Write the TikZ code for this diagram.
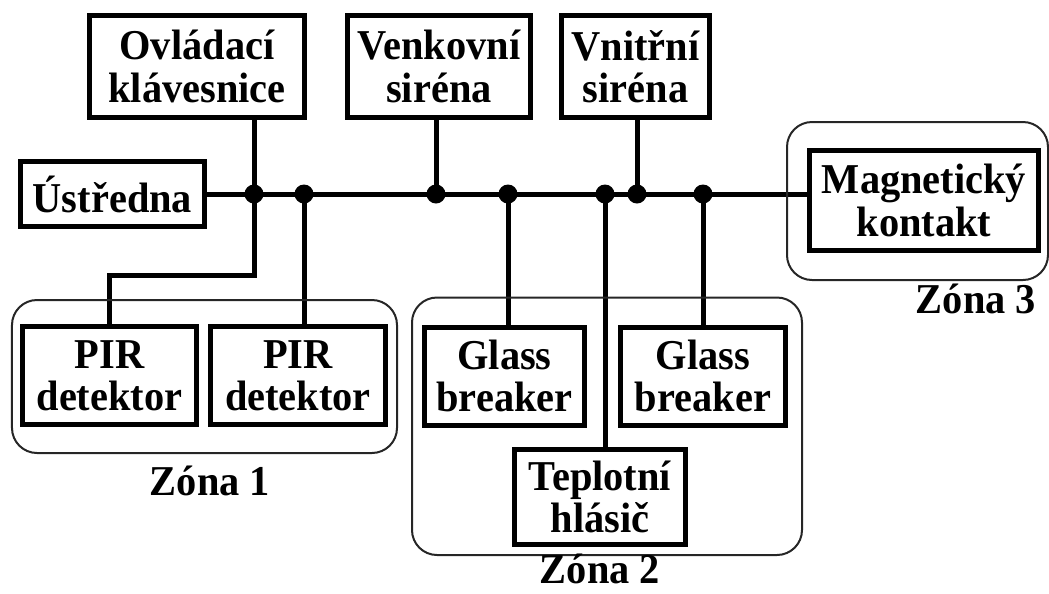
\documentclass[tikz,border=0pt]{standalone}
\usepackage{fontspec}
\setmainfont{Liberation Serif}[FakeStretch=0.95]
\usetikzlibrary{positioning,calc}

\begin{document}
\begin{tikzpicture}[x=1mm, y=1mm,
    unit/.style={draw, line width=1mm, rectangle, align=center, inner sep=0.5mm,
      minimum height=20.4mm, font=\fontsize{24.2}{24}\selectfont\bfseries},
    bus/.style={line width=1mm},
    dot/.style={circle, fill, inner sep=0pt, minimum size=3.8mm},
    zone/.style={draw=black!85, line width=0.4mm, rounded corners=5mm},
    zlabel/.style={inner sep=0pt, font=\fontsize{24.2}{24}\selectfont\bfseries}]
  \useasboundingbox (0,0) rectangle (209.8,-118.6);

  % control unit and the bus end
  \node[unit, minimum width=36.8mm, minimum height=13mm] (Ustredna) at (22.5,-38.8) {Ústředna};
  \node[unit, minimum width=45.8mm, minimum height=20mm] (Magnet) at (184.8,-40.1) {Magnetický\\kontakt};

  % devices above the bus
  \node[unit, minimum width=43mm] (Ovladaci) at (39.4,-13.3) {Ovládací\\klávesnice};
  \node[unit, minimum width=36.6mm, right=7.6mm of Ovladaci] (Venkovni) {Venkovní\\siréna};
  \node[unit, minimum width=29.6mm, right=5.2mm of Venkovni] (Vnitrni) {Vnitřní\\siréna};

  % detectors below the bus
  \node[unit, minimum width=34.8mm, minimum height=19.6mm] (PIR1) at (21.9,-75.1) {PIR\\detektor};
  \node[unit, minimum width=35mm, minimum height=19.6mm, right=1.8mm of PIR1] (PIR2) {PIR\\detektor};
  \node[unit, minimum width=32mm, minimum height=19.6mm] (Glass1) at (100.9,-75.2) {Glass\\breaker};
  \node[unit, minimum width=33mm, minimum height=19.6mm, right=6.2mm of Glass1] (Glass2) {Glass\\breaker};
  \node[unit, minimum width=34.2mm, minimum height=19mm] (Teplotni) at (120,-99.4) {Teplotní\\hlásič};

  % taps on the bus
  \coordinate (j1) at (50.8,-38.8);
  \coordinate (j2) at (60.8,-38.8);
  \coordinate (j3) at (87.2,-38.8);
  \coordinate (j4) at (101.6,-38.8);
  \coordinate (j5) at (121.0,-38.8);
  \coordinate (j6) at (127.4,-38.8);
  \coordinate (j7) at (140.6,-38.8);

  \draw[bus] (Ustredna.east) -- (Ustredna.east -| Magnet.west);
  \draw[bus] (Ovladaci.south -| j1) -- (j1) -- ++(0,-16.2) -| (PIR1.north);
  \draw[bus] (j2) -- (PIR2.north -| j2);
  \draw[bus] (Venkovni.south -| j3) -- (j3);
  \draw[bus] (j4) -- (Glass1.north -| j4);
  \draw[bus] (j5) -- (Teplotni.north -| j5);
  \draw[bus] (Vnitrni.south -| j6) -- (j6);
  \draw[bus] (j7) -- (Glass2.north -| j7);

  \node[dot] at (j1) {};
  \node[dot] at (j2) {};
  \node[dot] at (j3) {};
  \node[dot] at (j4) {};
  \node[dot] at (j5) {};
  \node[dot] at (j6) {};
  \node[dot] at (j7) {};

  % zones
  \draw[zone] ($(PIR1.north west)+(-1.6,4.8)$) rectangle ($(PIR2.south east)+(1.8,-5.2)$);
  \draw[zone] ($(Glass1.north west)+(-2,5.4)$) rectangle ($(Teplotni.south -| Glass2.east)+(2.8,-1.6)$);
  \draw[zone] ($(Magnet.north west)+(-4,5.2)$) rectangle ($(Magnet.south east)+(1.4,-5.4)$);

  \node[zlabel] (Zona1) at (42,-96.2) {Zóna 1};
  \node[zlabel] (Zona2) at (120,-113.8) {Zóna 2};
  \node[zlabel] (Zona3) at (195.2,-59.8) {Zóna 3};
\end{tikzpicture}
\end{document}
